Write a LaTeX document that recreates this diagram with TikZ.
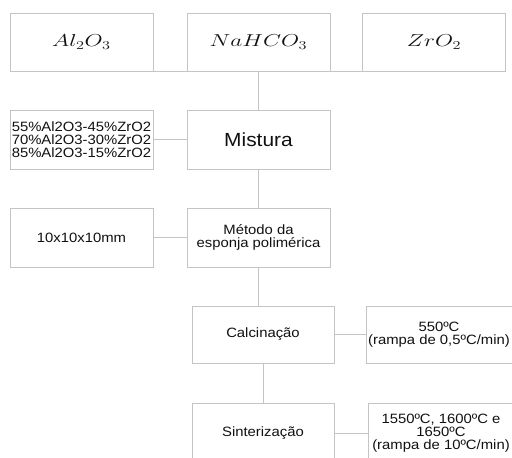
\documentclass[tikz,border=0pt]{standalone}
\usepackage{fontspec}
\setmainfont[FakeStretch=1.1]{Liberation Sans}
\usepackage{graphicx}
\begin{document}
\begin{tikzpicture}[x=1pt,y=-1pt,
  box/.style={draw=boxgray,line width=0.9pt,fill=white,minimum width=143pt,minimum height=58pt,inner sep=0pt,align=center,text=textdark,font=\fontsize{13.5}{12.8}\selectfont},
  formula/.style={box,font=\fontsize{17.5}{20}\selectfont},
  link/.style={draw=boxgray,line width=0.9pt}]
\definecolor{boxgray}{HTML}{C4C4C4}
\definecolor{textdark}{HTML}{111111}
\useasboundingbox (0,0) rectangle (512,458);
\fill[white] (0,0) rectangle (512,458);
% top row
\node[formula] (al) at (81.5,42) {\scalebox{1.35}[1]{$Al_2O_3$}};
\node[formula] (na) at (258.5,42) {\scalebox{1.35}[1]{$NaHCO_3$}};
\node[formula] (zr) at (434,42) {\scalebox{1.35}[1]{$ZrO_2$}};
% row 2
\node[box,minimum height=59pt] (comp) at (81.5,139.5) {55\%Al2O3-45\%ZrO2\\70\%Al2O3-30\%ZrO2\\85\%Al2O3-15\%ZrO2};
\node[box,minimum height=59pt,font=\fontsize{19}{22}\selectfont] (mix) at (258.5,139.5) {Mistura};
% row 3
\node[box,minimum height=59pt] (dim) at (81.5,237.5) {10x10x10mm};
\node[box,minimum height=59pt] (met) at (258.5,237.5) {Método da\\esponja polimérica};
% row 4
\node[box,minimum width=142pt,minimum height=57pt] (calc) at (263,334.5) {Calcinação};
\node[box,minimum width=146pt,minimum height=57pt] (t1) at (439,334.5) {550ºC\\(rampa de 0,5ºC/min)};
% row 5
\node[box,minimum width=142pt,minimum height=60pt] (sint) at (263,433) {Sinterização};
\node[box,minimum width=146pt,minimum height=60pt] (t2) at (441,433) {1550ºC, 1600ºC e\\1650ºC\\(rampa de 10ºC/min)};
% connectors
\draw[link] (al.south east) -- (na.south west);
\draw[link] (na.south east) -- (zr.south west);
\draw[link] (na.south) -- (mix.north);
\draw[link] (comp.east) -- (mix.west);
\draw[link] (mix.south) -- (met.north);
\draw[link] (dim.east) -- (met.west);
\draw[link] (met.south) -- (met.south |- calc.north);
\draw[link] (calc.east) -- (t1.west);
\draw[link] (calc.south) -- (sint.north);
\draw[link] (sint.east) -- (t2.west);
\end{tikzpicture}
\end{document}
